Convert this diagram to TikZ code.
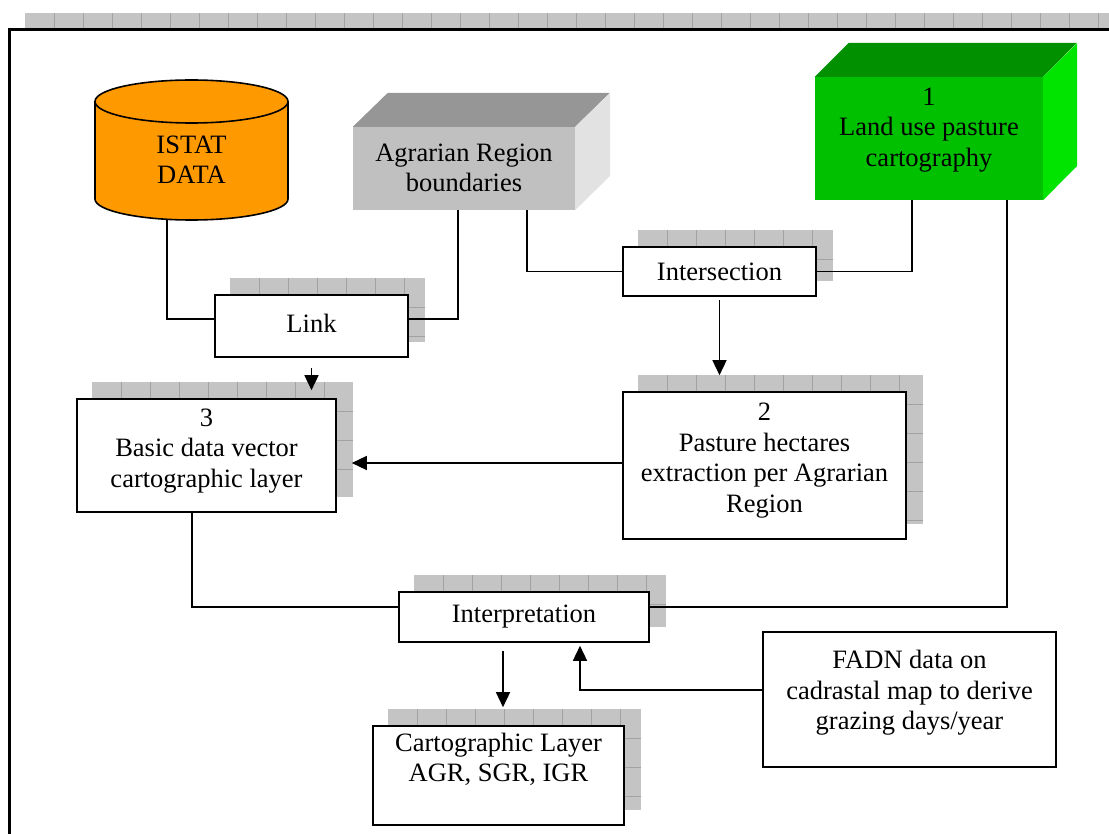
\documentclass[tikz,border=0pt]{standalone}
\usepackage{fontspec}
\setmainfont{Liberation Serif}
\usetikzlibrary{arrows.meta,calc,backgrounds}

\definecolor{istatorange}{HTML}{FF9900}
\definecolor{greenfront}{HTML}{00C000}
\definecolor{greentop}{HTML}{009000}
\definecolor{greenside}{HTML}{00E400}
\definecolor{greyfront}{HTML}{C0C0C0}
\definecolor{greytop}{HTML}{969696}
\definecolor{greyside}{HTML}{E2E2E2}
\definecolor{tilefill}{HTML}{C4C4C4}
\definecolor{tileedge}{HTML}{A2A2A2}

% tiled grey shadow between two corners
\newcommand{\tiles}[2]{%
    \fill [tilefill] (#1) rectangle (#2);
    \begin{scope}
        \clip (#1) rectangle (#2);
        \foreach \k in {1,...,40}
            \draw [tileedge, line width=0.8pt] ($(#1)+(29*\k,0)$) -- +(0,300)
                                              ($(#1)+(0,29*\k)$) -- +(400,0);
    \end{scope}}
\newcommand{\boxshadow}[1]{%
    \coordinate (shA) at ($(#1.north west)+(16,-16)$);
    \coordinate (shB) at ($(#1.south east)+(16,-16)$);
    \tiles{shA}{shB}}

\begin{document}
\begin{tikzpicture}[x=1pt, y=-1pt,
    >={Triangle[length=15pt,width=14pt]},
    every node/.style={font=\fontsize{26.5}{30.5}\selectfont, align=center},
    flowbox/.style={draw, line width=1.6pt, fill=white, inner sep=0pt},
    face/.style={inner sep=0pt},
    wire/.style={line width=1.5pt}]
    \useasboundingbox (0,0) rectangle (1109,834);
    \clip (0,0) rectangle (1109,834);

    % outer frame
    \tiles{25,13}{1140,29}
    \draw [line width=2.5pt] (9.5,29.5) rectangle (1150,900);

    % ISTAT cylinder
    \draw [line width=1.6pt, fill=istatorange]
      (95,101.5) -- (95,199)
      arc [start angle=180, end angle=360, x radius=96.5pt, y radius=21pt]
      -- (288,101.5)
      arc [start angle=0, end angle=180, x radius=96.5pt, y radius=21.5pt] -- cycle;
    \draw [line width=1.6pt] (95,101.5)
      arc [start angle=180, end angle=360, x radius=96.5pt, y radius=21.5pt];
    \node (istat) at (191.5,160) {ISTAT\\DATA};
    \coordinate (istatfoot) at (167,219.5);

    % 3d boxes
    \node [face, fill=greyfront, minimum width=222, minimum height=83, text depth=2pt]
      (agrarian) at (464,168.5) {Agrarian Region\\boundaries};
    \fill [greytop] (agrarian.north west) -- ++(35,-34) -- ++(222,0) -- (agrarian.north east) -- cycle;
    \fill [greyside] (agrarian.north east) -- ++(35,-34) -- ++(0,83) -- (agrarian.south east) -- cycle;

    \node [face, fill=greenfront, minimum width=228, minimum height=123, text depth=23pt]
      (landuse) at (929,138.5) {1\\Land use pasture\\cartography};
    \fill [greentop] (landuse.north west) -- ++(34,-34) -- ++(228,0) -- (landuse.north east) -- cycle;
    \fill [greenside] (landuse.north east) -- ++(34,-34) -- ++(0,123) -- (landuse.south east) -- cycle;

    % process boxes
    \node [flowbox, minimum width=193, minimum height=62, text depth=6pt]
      (link) at (311.5,326) {Link};
    \node [flowbox, minimum width=193, minimum height=49]
      (intersect) at (719.5,271.5) {Intersection};
    \node [flowbox, minimum width=259, minimum height=113, text depth=15pt]
      (basic) at (206.5,455.5) {3\\Basic data vector\\cartographic layer};
    \node [flowbox, minimum width=283, minimum height=147, text depth=16pt]
      (pasture) at (764.5,465.5) {2\\Pasture hectares\\extraction per Agrarian\\Region};
    \node [flowbox, minimum width=250, minimum height=50]
      (interp) at (524,617) {Interpretation};
    \node [flowbox, minimum width=251, minimum height=99, text depth=36pt]
      (carto) at (498.5,775.5) {Cartographic Layer\\AGR, SGR, IGR};
    \node [flowbox, minimum width=293, minimum height=135, text depth=19pt]
      (fadn) at (909.5,699.5) {FADN data on\\cadrastal map to derive\\grazing days/year};

    \begin{scope}[on background layer]
        \foreach \n in {link,intersect,basic,pasture,interp,carto}
            {\boxshadow{\n}}
    \end{scope}

    % connectors
    \draw [wire] (istatfoot) |- ([yshift=7pt]link.west);
    \draw [wire] ([xshift=-6pt]agrarian.south) |- ([yshift=7pt]link.east);
    \draw [wire] ([xshift=63pt]agrarian.south) |- (intersect.west);
    \draw [wire] ([xshift=-17pt]landuse.south) |- (intersect.east);
    \draw [wire, ->] ($(intersect.south)+(0,3)$) -- ($(intersect.south |- pasture.north)+(0,-16)$);
    \draw [wire, ->] ($(link.south)+(0,10)$) -- ($(link.south |- basic.north)+(0,-8)$);
    \draw [wire, ->] ($(pasture.west)+(0,-2.5)$) -- ($(basic.east |- pasture.west)+(15,-2.5)$);
    \draw [wire] ($(basic.south)+(-14.5,0)$) |- ($(interp.west)+(0,-10)$);
    \draw [wire] ($(landuse.south)+(78,0)$) |- ($(interp.east)+(0,-10)$);
    \draw [wire, ->] ($(interp.south)+(-21,8)$) -- ($(interp.south |- carto.north)+(-21,-18)$);
    \draw [wire, ->] ($(fadn.west)+(0,-9.5)$) -| ($(interp.south)+(56,3)$);
\end{tikzpicture}
\end{document}
